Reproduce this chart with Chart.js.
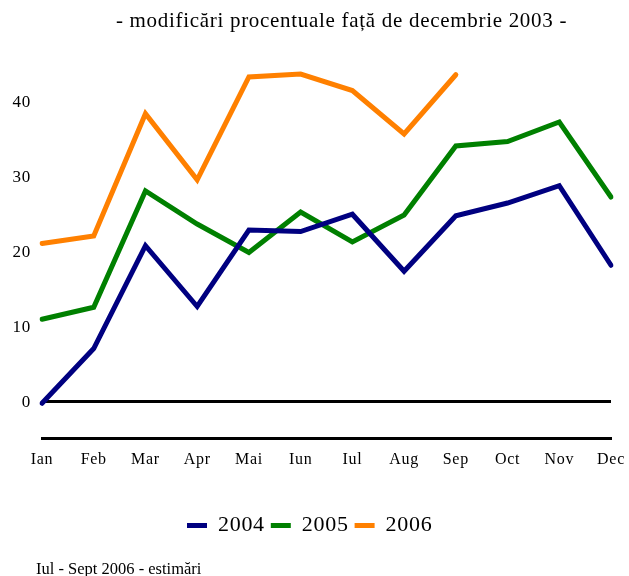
<!DOCTYPE html>
<html>
<head>
<meta charset="utf-8">
<script src="https://cdn.jsdelivr.net/npm/chart.js@4/dist/chart.umd.min.js"></script>
<style>
	body { margin: 0; background: #fff; }
	#wrap { width: 629px; height: 576px; }
</style>
</head>
<body>
<div id="wrap"><canvas id="priceGraph"></canvas></div>
<script>
let months = ['Ian', 'Feb', 'Mar', 'Apr', 'Mai', 'Iun', 'Iul', 'Aug', 'Sep', 'Oct', 'Nov', 'Dec'];
let years = ['2004', '2005', '2006'];
let values2004 = [-0.3, 7.0, 20.7, 12.6, 22.8, 22.6, 24.9, 17.3, 24.7, 26.4, 28.7, 18.1];
let values2005 = [10.9, 12.5, 28.0, 23.6, 19.8, 25.2, 21.2, 24.8, 34.0, 34.6, 37.2, 27.2];
let values2006 = [21.0, 22.0, 38.3, 29.5, 43.2, 43.6, 41.4, 35.6, 43.5, null, null, null];
let yTicks = [0, 10, 20, 30, 40];
let colors = ['#000080', '#008000', '#ff8000'];

let serif = "'Liberation Serif', 'Times New Roman', serif";

// title sits a bit right of the plot centre, text is slightly tracked,
// footnote drawn under the legend
let tweaks = {
	id: 'tweaks',
	afterLayout(chart) {
		chart.titleBlock.left += 36;
		chart.titleBlock.right += 36;
	},
	beforeDraw(chart) {
		chart.ctx.letterSpacing = '0.7px';
	},
	beforeDatasetsDraw(chart) {
		chart.ctx.letterSpacing = '0px';
	},
	afterDraw(chart) {
		let ctx = chart.ctx;
		ctx.save();
		ctx.letterSpacing = '0px';
		ctx.font = '16.5px ' + serif;
		ctx.fillStyle = '#000';
		ctx.textBaseline = 'alphabetic';
		ctx.fillText('Iul - Sept 2006 - estimări', 36, 574);
		ctx.restore();
	}
};

let chartData = {
	labels: months,
	datasets: [values2004, values2005, values2006].map((data, i) => ({
		label: years[i],
		data: data,
		borderColor: colors[i],
		backgroundColor: colors[i],
		borderWidth: 5,
		borderCapStyle: 'round',
		borderJoinStyle: 'miter',
		pointRadius: 0,
		tension: 0
	}))
};

new Chart(document.getElementById('priceGraph'), {
	type: 'line',
	data: chartData,
	plugins: [tweaks],
	options: {
		responsive: true,
		maintainAspectRatio: false,
		animation: false,
		layout: {
			padding: { left: 0, right: 18, top: 0, bottom: 29.5 }
		},
		plugins: {
			title: {
				display: true,
				text: '- modificări procentuale față de decembrie 2003 -',
				color: '#000',
				font: { family: serif, size: 21, weight: 'normal' },
				padding: { top: 9, bottom: 29.3 }
			},
			legend: {
				position: 'bottom',
				labels: {
					color: '#000',
					font: { family: serif, size: 22 },
					usePointStyle: true,
					pointStyle: 'line',
					pointStyleWidth: 20,
					padding: 6
				}
			},
			tooltip: { enabled: false }
		},
		scales: {
			x: {
				offset: false,
				afterFit: scale => {
					scale.height = 70;
					scale.paddingLeft = 0;
					scale.paddingRight = 0;
				},
				grid: { display: false },
				border: { display: true, color: '#000', width: 3 },
				ticks: {
					color: '#000',
					padding: 4,
					maxRotation: 0,
					font: { family: serif, size: 16 }
				}
			},
			y: {
				min: -5,
				max: 45,
				afterFit: scale => { scale.width = 42; },
				afterBuildTicks: scale => {
					scale.ticks = yTicks.map(v => ({ value: v }));
				},
				border: { display: false },
				grid: {
					drawTicks: false,
					lineWidth: 3,
					color: c => c.tick && c.tick.value === 0 ? '#000' : 'rgba(0,0,0,0)'
				},
				ticks: {
					color: '#000',
					padding: 11,
					labelOffset: 2,
					font: { family: serif, size: 17 }
				}
			}
		}
	}
});
</script>
</body>
</html>
